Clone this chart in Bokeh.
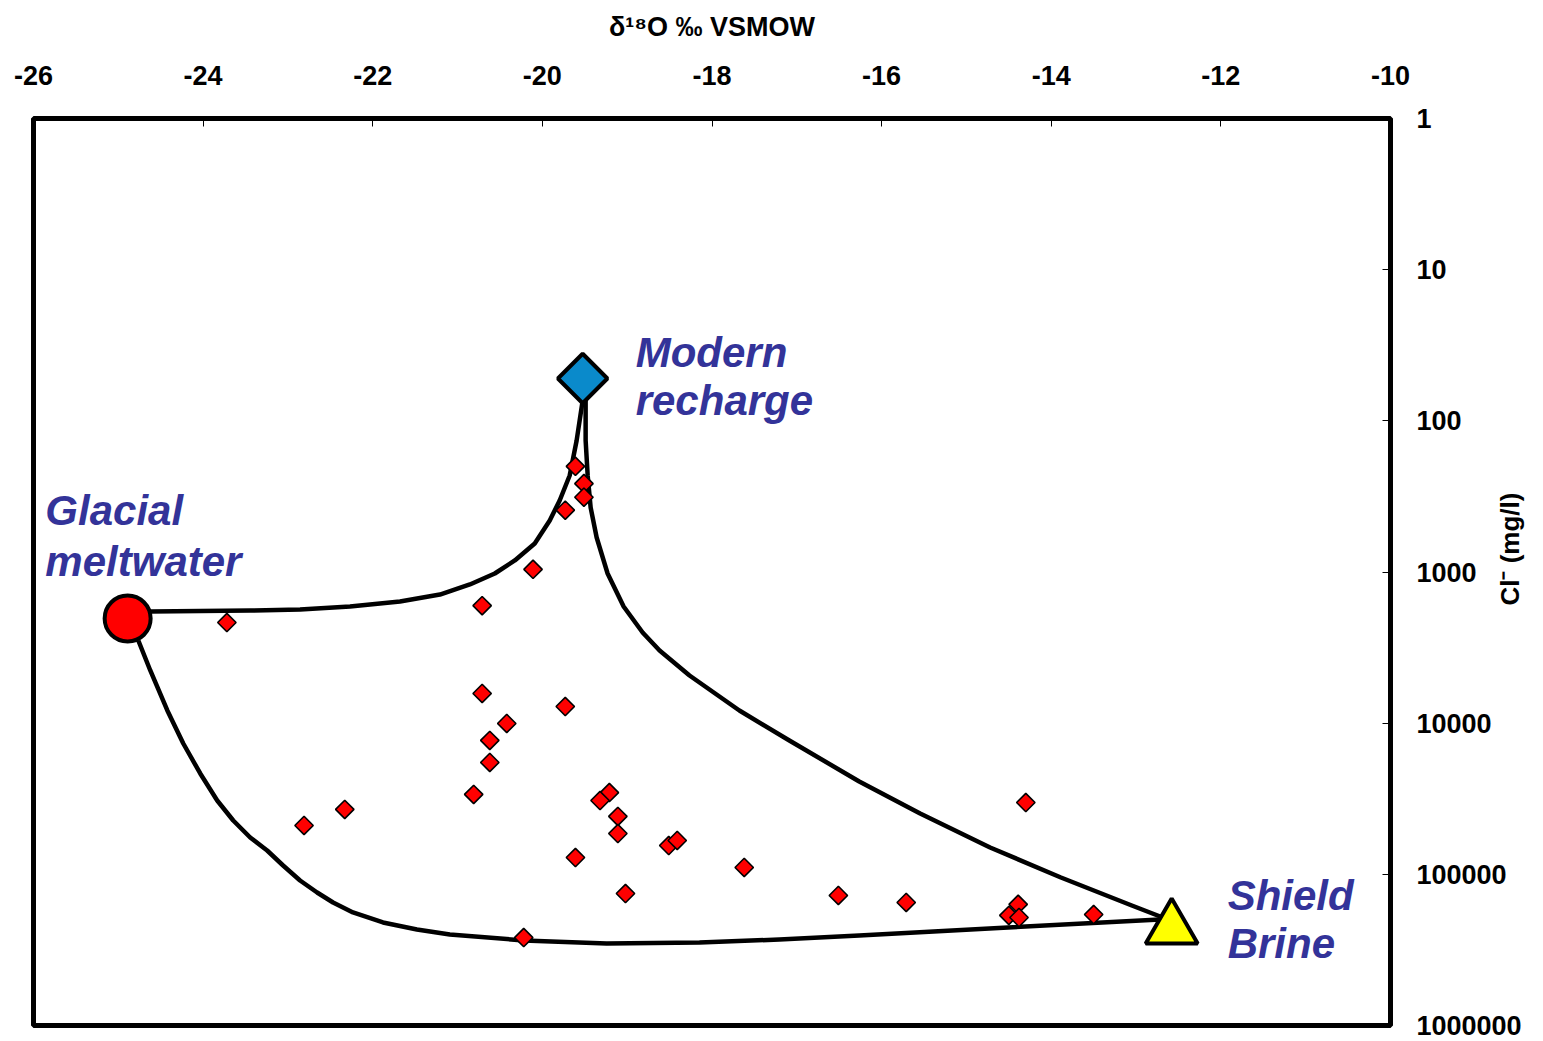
import math
from bokeh.plotting import figure
from bokeh.models import Range1d, FixedTicker, NumeralTickFormatter, Label, LogAxis
from bokeh.embed import file_html
from bokeh.resources import INLINE

# ---- data ----
sample_d18o = [-23.72, -20.71, -20.11, -19.73, -19.61, -19.51, -19.51,
               -20.71, -19.73, -20.42, -20.62, -20.62, -20.81, -22.33, -22.81,
               -19.21, -19.32, -19.11, -19.11, -19.61, -19.02, -20.22,
               -18.51, -18.41, -17.62, -16.51, -15.71, -14.30,
               -14.50, -14.39, -14.38, -13.50]
sample_cl = [2160, 1670, 960, 390, 200, 260, 320,
             6360, 7760, 10050, 13000, 18200, 29600, 37200, 47500,
             28800, 32500, 41400, 53700, 77400, 134000, 262000,
             64500, 59700, 90100, 138000, 153500, 33500,
             187000, 158000, 193000, 184400]

glacial_d18o = [-24.89]
glacial_cl = [2030]
modern_d18o = [-19.525]
modern_cl = [52.5]
brine_d18o = [-12.58]
brine_cl = [228000]

# mixing curve glacial -> modern recharge
curve_gm_d18o = [-24.623, -24.034, -23.445, -22.857, -22.268, -21.679, -21.208,
                 -20.855, -20.561, -20.325, -20.090, -19.913, -19.796, -19.678,
                 -19.596, -19.525]
curve_gm_cl = [1825, 1811, 1798, 1770, 1691, 1567, 1409,
               1209, 1023, 839, 648, 456, 336.5, 229.9,
               134.9, 73.4]

# mixing curve modern recharge -> shield brine
curve_mb_d18o = [-19.490, -19.490, -19.466, -19.431, -19.360, -19.231, -19.042,
                 -18.818, -18.618, -18.265, -17.677, -17.088, -16.264, -15.546,
                 -14.721, -13.886, -13.050, -12.685]
curve_mb_cl = [73.4, 134.9, 229.9, 374.4, 591.3, 1023, 1691,
               2513, 3306, 4836, 8244, 13020, 24310, 39590,
               66450, 104900, 160800, 193000]

# mixing curve glacial -> shield brine
curve_gb_d18o = [-24.764, -24.623, -24.422, -24.234, -24.034, -23.834, -23.645,
                 -23.445, -23.245, -23.057, -22.857, -22.656, -22.468, -22.233,
                 -21.879, -21.479, -21.091, -20.219, -19.242, -18.147, -17.206,
                 -16.264, -14.510, -12.720]
curve_gb_cl = [2839, 4482, 8244, 13630, 21520, 32480, 44040,
               57050, 69560, 87400, 109800, 131900, 153600, 178800,
               208200, 231700, 250000, 273900, 286700, 282400, 269800,
               253800, 224700, 198900]

x_ticks = [-26, -24, -22, -20, -18, -16, -14, -12, -10]
y_ticks = [1, 10, 100, 1000, 10000, 100000, 1000000]
y_title = "Cl⁻ (mg/l)"

FONT = "Liberation Sans"
LABEL_COLOR = "#333399"

p = figure(width=1543, height=1040, output_backend="svg", toolbar_location=None,
           x_range=Range1d(-26, -10), y_range=Range1d(1000000, 1),
           y_axis_type="log", x_axis_location="above", y_axis_location="right",
           min_border_left=33, min_border_right=151, min_border_top=118,
           min_border_bottom=15)

p.xgrid.visible = False
p.ygrid.visible = False
p.outline_line_color = "black"
p.outline_line_width = 5
p.background_fill_color = "white"
p.border_fill_color = "white"

for ax in (p.xaxis[0], p.yaxis[0]):
    ax.axis_line_color = None
    ax.major_tick_in = 8
    ax.major_tick_out = 0
    ax.minor_tick_in = 0
    ax.minor_tick_out = 0
    ax.major_tick_line_color = "black"
    ax.major_tick_line_width = 1
    ax.major_label_text_font = FONT
    ax.major_label_text_font_style = "bold"
    ax.major_label_text_font_size = "27px"
    ax.major_label_text_color = "black"
    ax.axis_label_text_font = FONT
    ax.axis_label_text_font_style = "bold"
    ax.axis_label_text_color = "black"

xax = p.xaxis[0]
xax.ticker = FixedTicker(ticks=x_ticks)
xax.major_label_overrides = {t: str(t) for t in x_ticks}
xax.major_label_standoff = 34
xax.axis_label = "δ¹⁸O ‰ VSMOW"
xax.axis_label_text_font_size = "27px"
xax.axis_label_standoff = 21

yax = p.yaxis[0]
yax.ticker = FixedTicker(ticks=y_ticks)
yax.formatter = NumeralTickFormatter(format="0")
yax.major_label_standoff = 26

# second right axis whose single (rotated) tick label is the axis title
title_anchor = 1666
lab_ax = LogAxis(ticker=FixedTicker(ticks=[title_anchor]),
                 major_label_overrides={title_anchor: y_title},
                 major_label_orientation=math.pi / 2,
                 axis_line_color=None, major_tick_in=0, major_tick_out=0,
                 minor_tick_in=0, minor_tick_out=0, major_label_standoff=-14,
                 major_label_text_font=FONT, major_label_text_font_style="bold",
                 major_label_text_font_size="26px", major_label_text_color="black")
p.add_layout(lab_ax, "right")

# curves
for xs, ys in ((curve_gm_d18o, curve_gm_cl), (curve_mb_d18o, curve_mb_cl),
               (curve_gb_d18o, curve_gb_cl)):
    p.line(xs, ys, line_color="black", line_width=4.5, line_join="round")

# samples
p.scatter(sample_d18o, sample_cl, marker="square", angle=math.pi / 4, size=13,
          fill_color="#FF0000", line_color="black", line_width=1.6)

# end-members
p.scatter(glacial_d18o, glacial_cl, marker="circle", size=46,
          fill_color="#FF0000", line_color="black", line_width=4)
p.scatter(modern_d18o, modern_cl, marker="square", angle=math.pi / 4, size=35,
          fill_color="#0A8ACB", line_color="black", line_width=4)
p.scatter(brine_d18o, brine_cl, marker="triangle", size=52,
          fill_color="#FFFF00", line_color="black", line_width=4)

def add_label(x, y, txt):
    p.add_layout(Label(x=x, y=y, text=txt, text_font=FONT, text_font_style="bold italic",
                       text_font_size="42px", text_color=LABEL_COLOR,
                       text_align="left", text_baseline="alphabetic"))

add_label(-25.86, 392, "Glacial")
add_label(-25.86, 851, "meltwater")
add_label(-18.90, 35.3, "Modern")
add_label(-18.90, 73.4, "recharge")
add_label(-11.92, 138000, "Shield")
add_label(-11.92, 286700, "Brine")

open("out.html", "w").write(file_html(p, INLINE))
